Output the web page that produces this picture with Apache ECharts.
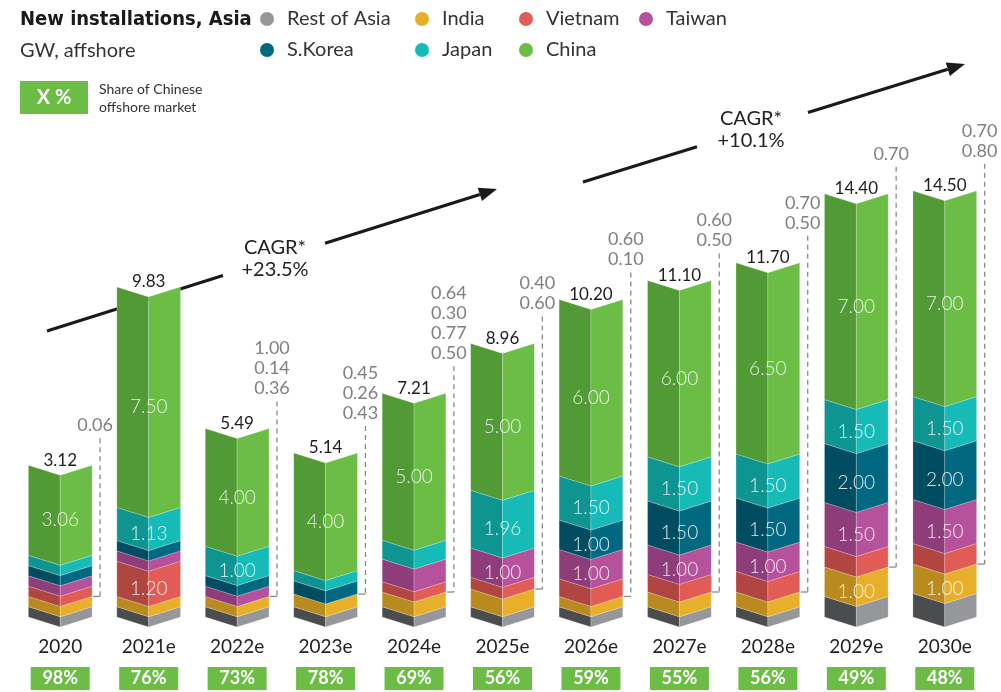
<!DOCTYPE html>
<html>
<head>
<meta charset="utf-8">
<title>New installations, Asia</title>
<script src="https://cdn.jsdelivr.net/npm/echarts@6/dist/echarts.min.js"></script>
<style>
  html, body { margin: 0; padding: 0; background: #fff; }
  #chart { width: 1001px; height: 692px; }
</style>
</head>
<body>
<div id="chart"></div>
<script>
'use strict';

// categories
var years = ['2020', '2021e', '2022e', '2023e', '2024e', '2025e', '2026e', '2027e', '2028e', '2029e', '2030e'];

// GW per market, stacked from the bottom; null = no slice in the bar
var restOfAsia = [0.01, 0, 0, 0, 0, 0, 0, 0, 0, 0.70, 0.80];
var india      = [0.01, 0, 0, 0.43, 0.50, 0.60, 0.10, 0.50, 0.50, 1.00, 1.00];
var vietnam    = [0.01, 1.20, null, null, 0.30, 0.40, 0.60, 0.60, 0.70, 0.70, 0.70];
var taiwan     = [0.01, 0, 0.14, null, 0.77, 1.00, 1.00, 1.00, 1.00, 1.50, 1.50];
var sKorea     = [0.01, 0, 0.36, 0.45, null, null, 1.00, 1.50, 1.50, 2.00, 2.00];
var japan      = [0.01, 1.13, 1.00, 0.26, 0.64, 1.96, 1.50, 1.50, 1.50, 1.50, 1.50];
var china      = [3.06, 7.50, 4.00, 4.00, 5.00, 5.00, 6.00, 6.00, 6.50, 7.00, 7.00];

// labels
var totals     = [3.12, 9.83, 5.49, 5.14, 7.21, 8.96, 10.20, 11.10, 11.70, 14.40, 14.50];
var chinaShare = [98, 76, 73, 78, 69, 56, 59, 55, 56, 49, 48];
var sideNotes  = [[0.06], [], [1.00, 0.14, 0.36], [0.45, 0.26, 0.43], [0.64, 0.30, 0.77, 0.50],
                  [0.40, 0.60], [0.60, 0.10], [0.60, 0.50], [0.70, 0.50], [0.70], [0.70, 0.80]];

var FONT = 'Lato, "Noto Sans", sans-serif';
var MIN_SHOWN = 0.35; // small markets still get a visible slice, like the original
var FOLD = 10;        // depth of the folded "V" edge, px
var BAR = 0.72;       // bar width as share of the band

var markets = [
  {name: 'Rest of Asia', values: restOfAsia, light: '#96979a', dark: '#4b4c4e'},
  {name: 'India',        values: india,      light: '#e8b02a', dark: '#b98b1f'},
  {name: 'Vietnam',      values: vietnam,    light: '#e25c56', dark: '#b04541'},
  {name: 'Taiwan',       values: taiwan,     light: '#b6519c', dark: '#8f3c7b'},
  {name: 'S.Korea',      values: sKorea,     light: '#006881', dark: '#004c61'},
  {name: 'Japan',        values: japan,      light: '#16bbb7', dark: '#0e9591'},
  {name: 'China',        values: china,      light: '#6cbd45', dark: '#529a35'}
];

// stack the slices
var level = years.map(function () { return 0; });
var indiaTop = [];
markets.forEach(function (m) {
  m.data = [];
  m.values.forEach(function (v, i) {
    if (v == null) return;
    var h = Math.max(v, MIN_SHOWN);
    m.data.push([i, level[i], level[i] + h, v]);
    level[i] += h;
  });
  if (m.name === 'India') indiaTop = level.slice();
});

function drawSlice(m) {
  return function (params, api) {
    var i = api.value(0);
    var lo = api.coord([i, api.value(1)]);
    var hi = api.coord([i, api.value(2)]);
    var w = api.size([1, 0])[0] * BAR;
    var cx = lo[0], xl = cx - w / 2, xr = cx + w / 2;
    var yb = lo[1], yt = hi[1];
    var v = api.value(3);
    var edge = {stroke: 'rgba(255,255,255,0.35)', lineWidth: 0.6};
    var kids = [
      {type: 'polygon', shape: {points: [[xl, yt], [cx, yt + FOLD], [cx, yb + FOLD], [xl, yb]]},
        style: Object.assign({fill: m.dark}, edge)},
      {type: 'polygon', shape: {points: [[cx, yt + FOLD], [xr, yt], [xr, yb], [cx, yb + FOLD]]},
        style: Object.assign({fill: m.light}, edge)}
    ];
    if (v >= 1) {
      kids.push({type: 'text', style: {
        text: v.toFixed(2), x: cx, y: (yt + yb) / 2 + FOLD, align: 'center', verticalAlign: 'middle',
        fill: 'rgba(255,255,255,0.85)', fontSize: 19, fontWeight: 300, fontFamily: FONT
      }});
    }
    return {type: 'group', children: kids};
  };
}

function drawNotes(params, api) {
  var i = api.value(0);
  var top = api.coord([i, api.value(1)]);
  var tick = api.coord([i, api.value(2)]);
  var w = api.size([1, 0])[0] * BAR;
  var cx = top[0], xr = cx + w / 2, xd = xr + 8;
  var kids = [{type: 'text', style: {
    text: api.value(3).toFixed(2), x: cx, y: top[1] - 5, align: 'center', verticalAlign: 'middle',
    fill: '#1e1e1e', fontSize: 17, fontFamily: FONT
  }}];
  var notes = sideNotes[i];
  if (notes.length) {
    var yText = top[1] - 40;
    notes.forEach(function (n, k) {
      kids.push({type: 'text', style: {
        text: n.toFixed(2), x: xd - 5, y: yText - (notes.length - 1 - k) * 20,
        align: 'center', verticalAlign: 'middle', fill: '#808080', fontSize: 18, fontFamily: FONT
      }});
    });
    kids.push({type: 'line', shape: {x1: xd, y1: yText + 13, x2: xd, y2: tick[1]},
      style: {stroke: '#8a8a8a', lineWidth: 1.3, lineDash: [5, 4]}});
    kids.push({type: 'line', shape: {x1: xr + 1, y1: tick[1], x2: xd, y2: tick[1]},
      style: {stroke: '#8a8a8a', lineWidth: 1.3}});
  }
  return {type: 'group', children: kids};
}

var series = markets.map(function (m) {
  return {
    name: m.name,
    type: 'custom',
    renderItem: drawSlice(m),
    itemStyle: {color: m.light},
    encode: {x: 0, y: [1, 2]},
    clip: false,
    silent: true,
    data: m.data
  };
});
series.push({
  name: 'totals',
  type: 'custom',
  renderItem: drawNotes,
  encode: {x: 0, y: [1, 2]},
  clip: false,
  silent: true,
  data: years.map(function (y, i) { return [i, level[i], indiaTop[i], totals[i]]; })
});

// legend laid out in columns like the original
var legendSpots = [
  ['Rest of Asia', 260, 9], ['India', 415, 9], ['Vietnam', 519, 9], ['Taiwan', 639, 9],
  ['S.Korea', 260, 40], ['Japan', 415, 40], ['China', 519, 40]
];
var legends = legendSpots.map(function (s) {
  return {
    data: [s[0]], left: s[1], top: s[2], padding: 0,
    icon: 'circle', itemWidth: 14, itemHeight: 14, selectedMode: false,
    textStyle: {fontSize: 20, color: '#333', fontFamily: FONT, lineHeight: 20, padding: [0, 0, 0, 8]}
  };
});

function arrow(x1, y1, x2, y2, gx1, gx2) {
  // line with a gap for the caption and a filled head at (x2, y2)
  var dx = x2 - x1, dy = y2 - y1, len = Math.sqrt(dx * dx + dy * dy);
  var ux = dx / len, uy = dy / len, nx = -uy, ny = ux;
  var bx = x2 - 18 * ux, by = y2 - 18 * uy;
  var yAt = function (x) { return y1 + (x - x1) * dy / dx; };
  var st = {stroke: '#1a1a1a', lineWidth: 3.2};
  return [
    {type: 'line', shape: {x1: x1, y1: y1, x2: gx1, y2: yAt(gx1)}, style: st},
    {type: 'line', shape: {x1: gx2, y1: yAt(gx2), x2: bx, y2: by}, style: st},
    {type: 'polygon', shape: {points: [[x2, y2], [bx + 7 * nx, by + 7 * ny], [bx - 7 * nx, by - 7 * ny]]},
      style: {fill: '#1a1a1a'}}
  ];
}

function caption(x, y, lines) {
  return lines.map(function (t, k) {
    return {type: 'text', style: {text: t, x: x, y: y + k * 22, align: 'center', verticalAlign: 'middle',
      fill: '#222', fontSize: 20, fontFamily: FONT}};
  });
}

var graphics = []
  .concat(arrow(47, 331, 497, 189, 223, 325))
  .concat(caption(275, 248, ['CAGR*', '+23.5%']))
  .concat(arrow(583, 182, 965, 64, 697, 808))
  .concat(caption(751, 119, ['CAGR*', '+10.1%']))
  .concat([
    {type: 'rect', shape: {x: 20, y: 81, width: 68, height: 33}, style: {fill: '#6cbd45'}},
    {type: 'text', style: {text: 'X %', x: 54, y: 98, align: 'center', verticalAlign: 'middle',
      fill: '#fff', fontSize: 20, fontWeight: 'bold', fontFamily: FONT}},
    {type: 'text', style: {text: 'Share of Chinese', x: 99, y: 89, verticalAlign: 'middle',
      fill: '#333', fontSize: 14, fontFamily: FONT}},
    {type: 'text', style: {text: 'offshore market', x: 99, y: 107, verticalAlign: 'middle',
      fill: '#333', fontSize: 14, fontFamily: FONT}}
  ]);

var myChart = echarts.init(document.getElementById('chart'));
var option = {
  animation: false,
  title: {
    text: 'New installations, Asia',
    subtext: 'GW, affshore',
    left: 20, top: 9, padding: 0, itemGap: 9,
    textStyle: {fontFamily: '"Liberation Sans Narrow", "DejaVu Sans Condensed", sans-serif',
      fontSize: 20, fontWeight: 'bold', color: '#1a1a1a', lineHeight: 22},
    subtextStyle: {fontFamily: FONT, fontSize: 20, color: '#333', lineHeight: 22}
  },
  legend: legends,
  grid: {left: 16, right: 12, top: 88, bottom: 75, outerBoundsMode: 'none'},
  xAxis: [{
    type: 'category', data: years,
    axisLine: {show: false}, axisTick: {show: false}, splitLine: {show: false},
    axisLabel: {interval: 0, margin: 20, fontSize: 19, color: '#222', fontFamily: FONT}
  }, {
    type: 'category', data: years, position: 'bottom', offset: 0,
    axisLine: {show: false}, axisTick: {show: false}, splitLine: {show: false},
    axisLabel: {
      interval: 0, margin: 50,
      formatter: function (v, i) { return chinaShare[i] + '%'; },
      backgroundColor: '#6cbd45', width: 59, height: 23, lineHeight: 23, align: 'center',
      color: '#fff', fontSize: 18, fontWeight: 'bold', fontFamily: FONT
    }
  }],
  yAxis: {type: 'value', min: 0, max: 18, show: false},
  graphic: graphics,
  series: series
};
myChart.setOption(option);
</script>
</body>
</html>
